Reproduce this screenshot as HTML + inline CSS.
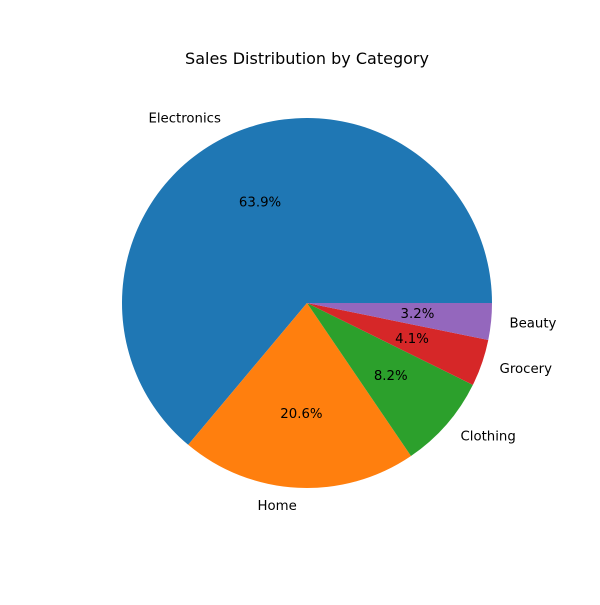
<!DOCTYPE html>
<html><head><meta charset="utf-8"><style>
body{margin:0;background:#fff;}
svg text{font-family:"DejaVu Sans","Liberation Sans",sans-serif;}
</style></head><body>
<svg id="chart" width="600" height="600" viewBox="0 0 600 600">
<rect width="600" height="600" fill="#fff"/>
<text x="307" y="64" text-anchor="middle" font-size="16" fill="#000">Sales Distribution by Category</text>
<g id="slices"></g>
</svg>
<script>
const categories = ["Electronics","Home","Clothing","Grocery","Beauty"];
const values = [63.9,20.6,8.2,4.1,3.2];
const colors = ["#1f77b4","#ff7f0e","#2ca02c","#d62728","#9467bd"];
const cx=307, cy=303, r=185;
const g=document.getElementById('slices');
const NS="http://www.w3.org/2000/svg";
const total=values.reduce((a,b)=>a+b,0);
let start=0;
function pt(a,rad){return [cx+rad*Math.cos(a), cy-rad*Math.sin(a)];}
values.forEach((v,i)=>{
  const frac=v/total;
  const a0=start*2*Math.PI, a1=(start+frac)*2*Math.PI;
  const p0=pt(a0,r), p1=pt(a1,r);
  const large=frac>0.5?1:0;
  const path=document.createElementNS(NS,'path');
  path.setAttribute('d',`M${cx},${cy} L${p0[0]},${p0[1]} A${r},${r} 0 ${large} 0 ${p1[0]},${p1[1]} Z`);
  path.setAttribute('fill',colors[i]);
  
  
  g.appendChild(path);
  const am=(a0+a1)/2;
  const lp=pt(am,r*1.1);
  const t=document.createElementNS(NS,'text');
  t.setAttribute('x',lp[0]);t.setAttribute('y',lp[1]+4);
  t.setAttribute('font-size','13.3');
  t.setAttribute('text-anchor',Math.cos(am)>=0?'start':'end');
  t.textContent=categories[i];
  
  
  g.appendChild(t);
  const pp=pt(am,r*0.6);
  const p=document.createElementNS(NS,'text');
  p.setAttribute('x',pp[0]);p.setAttribute('y',pp[1]+4);
  p.setAttribute('font-size','13.3');
  p.setAttribute('text-anchor','middle');
  p.textContent=v.toFixed(1)+'%';
  
  
  g.appendChild(p);
  start+=frac;
});
</script>
</body></html>
